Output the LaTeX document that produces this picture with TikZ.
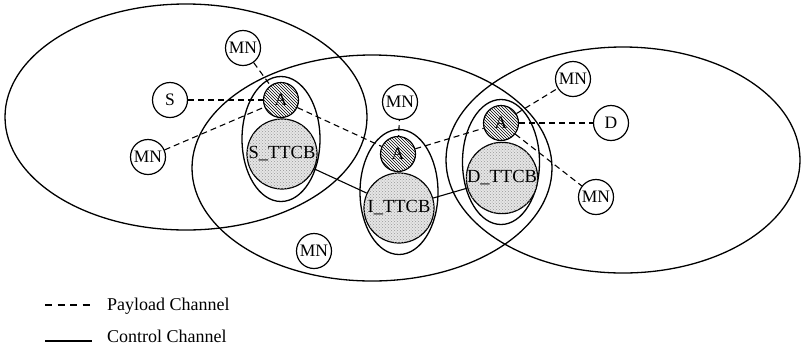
\documentclass[tikz,border=0pt]{standalone}
\usepackage{fontspec}
\setmainfont{Liberation Serif}
\usetikzlibrary{patterns}

\tikzset{
  zoneline/.style={line width=1.3pt},
  ovalline/.style={line width=1.3pt},
  mnode/.style={circle, draw, line width=1.2pt, fill=white, minimum size=35pt, inner sep=0pt,
                font=\fontsize{17.5}{17.5}\selectfont},
  agent/.style={circle, draw, line width=1.2pt, pattern=north west lines, minimum size=35pt,
                inner sep=0pt, font=\fontsize{17.5}{17.5}\selectfont},
  ttcb/.style={circle, draw, line width=1.2pt, fill=black!10,
               postaction={pattern=crosshatch dots, pattern color=black!40},
               minimum size=70pt, inner sep=0pt, font=\fontsize{18.5}{18.5}\selectfont},
  payload/.style={line width=1.1pt, dash pattern=on 6pt off 4pt},
  control/.style={line width=1.1pt},
  legendtext/.style={anchor=base west, inner sep=0pt, font=\fontsize{18}{18}\selectfont}
}

\begin{document}
\begin{tikzpicture}[x=1pt, y=-1pt]
\useasboundingbox (0,0) rectangle (802,349);

% three overlapping domains
\draw[zoneline] (186,117) ellipse [x radius=181pt, y radius=113pt];
\draw[zoneline] (372,168) ellipse [x radius=180pt, y radius=113pt];
\draw[zoneline] (623,160) ellipse [x radius=177pt, y radius=113pt];

% ovals grouping each agent with its TTCB
\draw[ovalline] (281,139) ellipse [x radius=39pt, y radius=62.5pt];
\draw[ovalline] (399,192) ellipse [x radius=39pt, y radius=62.5pt];
\draw[ovalline] (501,162) ellipse [x radius=38.5pt, y radius=62.5pt];

% TTCB parts
\node[ttcb] (sttcb) at (282,154) {S\_TTCB};
\node[ttcb] (ittcb) at (399,208) {I\_TTCB};
\node[ttcb] (dttcb) at (502,178) {D\_TTCB};

% agents
\node[agent] (aS) at (281,100) {A};
\node[agent] (aI) at (398,154) {A};
\node[agent] (aD) at (501,123) {A};

% end points
\node[mnode] (src) at (170,100) {S};
\node[mnode] (dst) at (611,123) {D};
\node[mnode] (mn1) at (243,48) {MN};
\node[mnode] (mn2) at (148,157) {MN};
\node[mnode] (mn3) at (400,102) {MN};
\node[mnode] (mn4) at (314,251) {MN};
\node[mnode] (mn5) at (573,79) {MN};
\node[mnode] (mn6) at (596,197) {MN};

% payload channel
\draw[payload] (src) -- (aS);
\draw[payload] (mn1) -- (aS);
\draw[payload] (mn2) -- (aS);
\draw[payload] (aS) -- (aI);
\draw[payload, dash phase=-5pt] (mn3) -- (aI);
\draw[payload] (aI) -- (aD);
\draw[payload] (aD) -- (dst);
\draw[payload] (aD) -- (mn5);
\draw[payload] (aD) -- (mn6);

% control channel
\draw[control] (sttcb) -- (ittcb);
\draw[control] (ittcb) -- (dttcb);

% legend
\coordinate (lp1) at (45,305);
\coordinate (lp2) at (90,305);
\coordinate (lc1) at (45,341);
\coordinate (lc2) at (92,341);
\draw[line width=1.1pt, dash pattern=on 7pt off 5.5pt] (lp1) -- (lp2);
\draw[line width=1.1pt] (lc1) -- (lc2);
\node[legendtext] (lpt) at (107,310.5) {Payload Channel};
\node[legendtext] (lct) at (107,342.5) {Control Channel};
\end{tikzpicture}
\end{document}
